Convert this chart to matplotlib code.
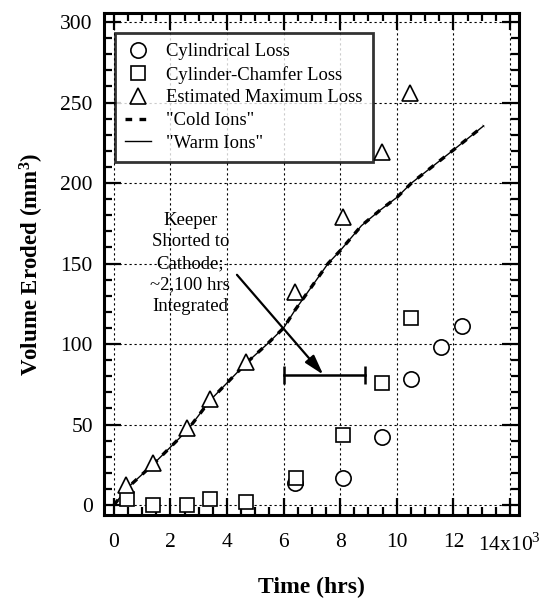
import matplotlib
matplotlib.use("Agg")
import matplotlib.pyplot as plt
from matplotlib.ticker import MultipleLocator

plt.rcParams['font.family'] = ['Liberation Serif', 'DejaVu Serif']
plt.rcParams['mathtext.fontset'] = 'custom'
plt.rcParams['mathtext.rm'] = 'Liberation Serif'
plt.rcParams['mathtext.bf'] = 'Liberation Serif:bold'

# ---- data ----
cyl_time = [6400, 8100, 9480, 10500, 11550, 12300]
cyl_loss = [13.5, 17, 42, 78, 98, 111]

cham_time = [450, 1390, 2600, 3390, 4660, 6420, 8100, 9480, 10500]
cham_loss = [3.5, 0, 0, 3.5, 2, 17, 43.5, 76, 116]

max_time = [420, 1390, 2600, 3390, 4660, 6400, 8100, 9490, 10480]
max_loss = [12.4, 26, 48, 66, 89, 132.5, 179, 219.5, 255.7]

model_time = [0, 500, 1400, 2600, 3400, 4700, 5420, 6000, 6400, 7570, 8000,
              8750, 9400, 10000, 10520, 12000, 13070]
cold_ions = [0, 11, 25.5, 46.5, 65, 88.5, 100, 110, 121, 150, 158,
             173.5, 183, 191, 200, 220.5, 235.5]
warm_ions = [0, 11, 25.5, 46.5, 65, 88.5, 100, 110, 121, 150, 158,
             173.5, 183, 191, 200, 220.5, 235.5]

short_start, short_end, short_level = 6000, 8870, 81
arrow_from = (4350, 143)
arrow_to = (7400, 81)
note_pos = (2700, 150)
note_text = "Keeper\nShorted to\nCathode;\n~2,100 hrs\nIntegrated"

xticks = [0, 2000, 4000, 6000, 8000, 10000, 12000, 14000]
xtick_labels = ["0", "2", "4", "6", "8", "10", "12", "14x10$^{3}$"]
yticks = [0, 50, 100, 150, 200, 250, 300]

# ---- figure ----
fig = plt.figure(figsize=(5.43, 5.99), dpi=100)
ax = fig.add_axes([0.1915, 0.1402, 0.7643, 0.8381])

ax.plot(cyl_time, cyl_loss, 'o', mfc='white', mec='black', ms=11, mew=1.2,
        ls='none', label='Cylindrical Loss', zorder=5)
ax.plot(cham_time, cham_loss, 's', mfc='white', mec='black', ms=10, mew=1.2,
        ls='none', label='Cylinder-Chamfer Loss', zorder=5)
ax.plot(max_time, max_loss, '^', mfc='white', mec='black', ms=11, mew=1.2,
        ls='none', label='Estimated Maximum Loss', zorder=5)
ax.plot(model_time, cold_ions, color='black', lw=2.4, ls=(0, (2.0, 2.2)),
        label='"Cold Ions"', zorder=4)
ax.plot(model_time, warm_ions, color='black', lw=1.0, ls='-',
        label='"Warm Ions"', zorder=4)

# keeper short bar
ax.plot([short_start, short_end], [short_level, short_level], color='black',
        lw=1.8, zorder=3)
ax.plot([short_start, short_end], [short_level, short_level], ls='none',
        marker='|', ms=13, mew=1.8, color='black', zorder=3)

ax.annotate('', xy=arrow_to, xytext=arrow_from,
            arrowprops=dict(arrowstyle='-|>,head_length=1.2,head_width=0.35',
                            color='black', lw=1.6, shrinkA=0, shrinkB=0))
ax.text(note_pos[0], note_pos[1], note_text, ha='center', va='center',
        fontsize=13.5, linespacing=1.35)

ax.set_xlim(-350, 14320)
ax.set_ylim(-6.2, 305.6)
ax.set_xticks(xticks)
ax.set_xticklabels(xtick_labels)
ax.set_yticks(yticks)
ax.xaxis.set_minor_locator(MultipleLocator(500))
ax.yaxis.set_minor_locator(MultipleLocator(10))
ax.tick_params(which='both', direction='in', top=True, right=True,
               labelsize=15.5, width=1.6)
ax.tick_params(axis='x', which='major', pad=13)
ax.tick_params(axis='y', which='major', pad=8)
ax.tick_params(which='major', length=12)
ax.tick_params(which='minor', length=6)
ax.grid(True, which='major', ls=(0, (2, 2.5)), color='black', lw=0.8)
for s in ax.spines.values():
    s.set_linewidth(2.2)

ax.set_xlabel('Time (hrs)', fontsize=17, fontweight='bold', labelpad=15)
ax.set_ylabel('Volume Eroded (mm$\\mathbf{^{3}}$)', fontsize=16.5,
              fontweight='bold', labelpad=10)

leg = ax.legend(loc='upper left', bbox_to_anchor=(0.0265, 0.960),
                borderaxespad=0, fontsize=13.4, frameon=True, fancybox=False,
                labelspacing=0.3, handlelength=1.4, handletextpad=0.8,
                borderpad=0.55)
leg.get_frame().set_edgecolor('black')
leg.get_frame().set_linewidth(2.0)

fig.savefig('out.png', dpi=100)
